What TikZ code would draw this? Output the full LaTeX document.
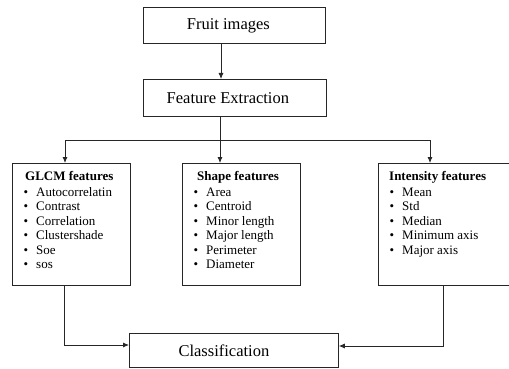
\documentclass[tikz,border=0pt]{standalone}
\usepackage{fontspec}
\setmainfont{Liberation Serif}
\usetikzlibrary{arrows.meta}
\tikzset{
  box/.style={draw=black!85, line width=0.8pt, inner sep=0pt, anchor=north west},
  ttl/.style={font=\fontsize{16.5}{18}\selectfont},
  item/.style={font=\fontsize{13}{15}\selectfont, anchor=base west, inner sep=0pt},
  arr/.style={-{Latex[length=6pt,width=5pt]}, line width=0.8pt, draw=black!85},
  ln/.style={line width=0.8pt, draw=black!85}
}
\begin{document}
\begin{tikzpicture}[x=1pt,y=-1pt]
\useasboundingbox (0,0) rectangle (509,369);
% main boxes
\node[box, minimum width=182pt, minimum height=36pt] (fruit) at (143,7) {};
\node[ttl] (fruitt) at ([xshift=-6pt]fruit.center) {Fruit images};
\node[box, minimum width=183pt, minimum height=37pt] (fe) at (143,79) {};
\node[ttl] (fet) at ([xshift=-7pt]fe.center) {Feature Extraction};
\node[box, minimum width=118pt, minimum height=122pt] (glcm) at (12,163) {};
\node[box, minimum width=118pt, minimum height=122pt] (shape) at (182,163) {};
\node[box, minimum width=140pt, minimum height=122pt] (inten) at (378,163) {};
\node[box, minimum width=209pt, minimum height=34pt] (cls) at (129,333) {};
\node[ttl] (clst) at ([xshift=-10pt]cls.center) {Classification};
% feature texts
\node[item, font=\fontsize{13}{15}\selectfont\bfseries] (gt) at (25,180.5) {GLCM features};
\foreach \t [count=\i] in {Autocorrelatin,Contrast,Correlation,Clustershade,Soe,sos}{
  \node[item] (gb\i) at (23.5,196.5+14.4*\i-14.4) {\textbullet};
  \node[item] (gi\i) at (36,196.5+14.4*\i-14.4) {\t};
}
\node[item, font=\fontsize{13}{15}\selectfont\bfseries] (st) at (197,180.5) {Shape features};
\foreach \t [count=\i] in {Area,Centroid,Minor length,Major length,Perimeter,Diameter}{
  \node[item] (sb\i) at (193.5,196.5+14.4*\i-14.4) {\textbullet};
  \node[item] (si\i) at (206,196.5+14.4*\i-14.4) {\t};
}
\node[item, font=\fontsize{13}{15}\selectfont\bfseries] (it) at (389,180.5) {Intensity features};
\foreach \t [count=\i] in {Mean,Std,Median,Minimum axis,Major axis}{
  \node[item] (ib\i) at (389.5,196.5+14.4*\i-14.4) {\textbullet};
  \node[item] (ii\i) at (402,196.5+14.4*\i-14.4) {\t};
}
% connectors
\coordinate (a1) at (221,0);
\draw[arr] (fruit.south -| a1) -- (fe.north -| a1);
\coordinate (jn) at (220,140);
\coordinate (jl) at (65,140);
\coordinate (jr) at (430,140);
\draw[ln] (fe.south -| jn) -- (jn);
\draw[ln] (jl) -- (jr);
\draw[arr] (jl) -- (glcm.north -| jl);
\draw[arr] (jn) -- (shape.north -| jn);
\draw[arr] (jr) -- (inten.north -| jr);
\coordinate (bl) at (64,345);
\coordinate (br) at (443,346);
\draw[arr] (glcm.south -| bl) -- (bl) -- (cls.west |- bl);
\draw[arr] (inten.south -| br) -- (br) -- (cls.east |- br);
\end{tikzpicture}
\end{document}
